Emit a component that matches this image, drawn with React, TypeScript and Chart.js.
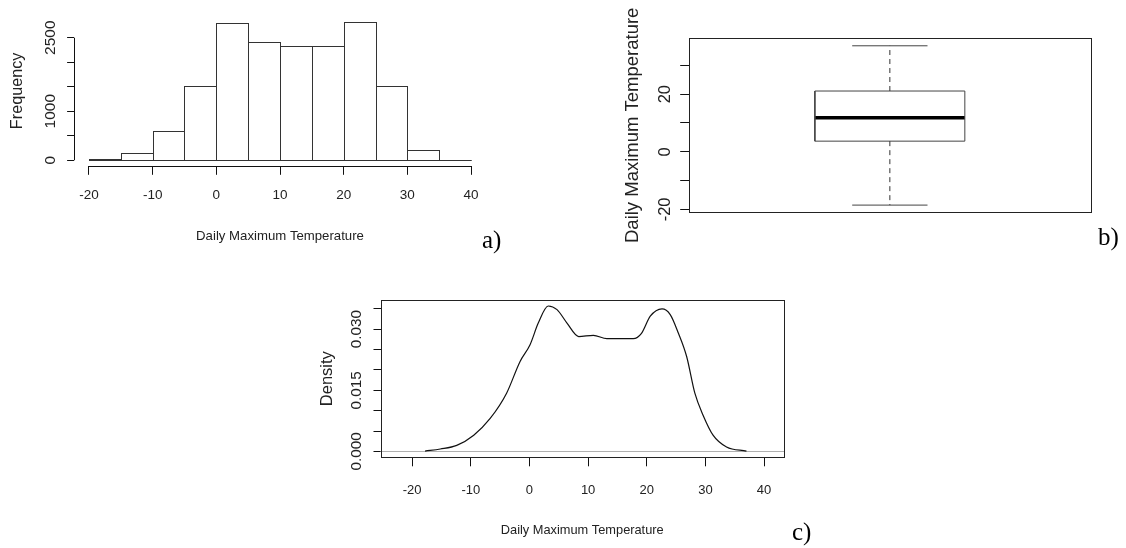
import React, { useEffect, useRef } from 'react';
import { Chart, registerables } from 'chart.js';

Chart.register(...registerables);

const SANS = '"Liberation Sans", Arial, Helvetica, sans-serif';
const SERIF = '"Liberation Serif", "Times New Roman", serif';
const TEXT = '#222';
const AXIS = '#111';

// ---------- Panel a: histogram ----------
const BIN_STARTS = [-20, -15, -10, -5, 0, 5, 10, 15, 20, 25, 30, 35];
const BIN_WIDTH = 5;
const BIN_COUNTS = [20, 150, 600, 1520, 2810, 2420, 2340, 2340, 2830, 1510, 205, 3];
const HIST_X_TICKS = [-20, -10, 0, 10, 20, 30, 40];
const FREQ_TICKS = [0, 500, 1000, 1500, 2000, 2500];
const FREQ_LABELED = [0, 1000, 2500];

// ---------- Panel b: box plot ----------
const BOX_STATS = [-18.5, 3.7, 11.8, 21.1, 36.8]; // min, Q1, median, Q3, max
const BOX_Y_TICKS = [-20, -10, 0, 10, 20, 30];
const BOX_Y_LABELED = [-20, 0, 20];

// ---------- Panel c: density ----------
const DENS_X = [-17.8, -15.2, -12.4, -9.5, -6.7, -3.9, -1.6, 0.1, 1.5, 3.2, 4.7, 6.4, 8.4, 10.9, 13.2, 17.7, 19.1, 20.6, 22.6, 24.0, 25.4, 26.8, 28.2, 29.6, 31.3, 33.6, 37.0];
const DENS_Y = [0.0001, 0.0006, 0.0015, 0.004, 0.0081, 0.0143, 0.0221, 0.0262, 0.0315, 0.0357, 0.0348, 0.0315, 0.0282, 0.0285, 0.0277, 0.0277, 0.029, 0.0332, 0.035, 0.0336, 0.029, 0.0233, 0.0143, 0.0089, 0.004, 0.0011, 0.0001];
const DENS_X_TICKS = [-20, -10, 0, 10, 20, 30, 40];
const DENS_Y_TICKS = [0, 0.005, 0.01, 0.015, 0.02, 0.025, 0.03, 0.035];
const DENS_Y_LABELED = [0, 0.015, 0.03];

const setTicks = (vals: number[]) => (s: any) => {
  s.ticks = vals.map((v) => ({ value: v }));
};

const crisp = (v: number) => Math.round(v) + 0.5;

// R-style axis lines spanning first..last tick (panel a)
const rAxisLines = {
  id: 'rAxisLines',
  afterDraw(chart: any) {
    const { ctx, chartArea, scales } = chart;
    const x = scales.x;
    const y = scales.y;
    ctx.save();
    ctx.strokeStyle = AXIS;
    ctx.lineWidth = 1;
    ctx.beginPath();
    const yb = crisp(chartArea.bottom);
    ctx.moveTo(x.getPixelForValue(HIST_X_TICKS[0]), yb);
    ctx.lineTo(x.getPixelForValue(HIST_X_TICKS[HIST_X_TICKS.length - 1]), yb);
    const xl = crisp(chartArea.left);
    ctx.moveTo(xl, y.getPixelForValue(FREQ_TICKS[0]));
    ctx.lineTo(xl, y.getPixelForValue(FREQ_TICKS[FREQ_TICKS.length - 1]));
    ctx.stroke();
    ctx.restore();
  },
};

// R-style rectangle outlines for the histogram bars (uses the bar elements' geometry)
const histOutline = {
  id: 'histOutline',
  afterDatasetsDraw(chart: any) {
    const { ctx } = chart;
    const meta = chart.getDatasetMeta(0);
    ctx.save();
    ctx.strokeStyle = '#333';
    ctx.lineWidth = 1;
    meta.data.forEach((el: any) => {
      const p = el.getProps(['x', 'y', 'base', 'width'], true);
      const l = crisp(p.x - p.width / 2);
      const r = crisp(p.x + p.width / 2);
      const t = crisp(Math.min(p.y, p.base));
      const b = crisp(Math.max(p.y, p.base));
      ctx.strokeRect(l, t, r - l, Math.max(b - t, 0));
    });
    ctx.restore();
  },
};

const frameBox = {
  id: 'frameBox',
  afterDraw(chart: any) {
    const { ctx, chartArea } = chart;
    ctx.save();
    ctx.strokeStyle = '#222';
    ctx.lineWidth = 1;
    const l = crisp(chartArea.left);
    const t = crisp(chartArea.top);
    const r = crisp(chartArea.right);
    const b = crisp(chartArea.bottom);
    ctx.strokeRect(l, t, r - l, b - t);
    ctx.restore();
  },
};

const zeroLine = {
  id: 'zeroLine',
  beforeDatasetsDraw(chart: any) {
    const { ctx, chartArea, scales } = chart;
    const yz = crisp(scales.y.getPixelForValue(0));
    ctx.save();
    ctx.strokeStyle = '#b0b0b0';
    ctx.lineWidth = 1;
    ctx.beginPath();
    ctx.moveTo(chartArea.left, yz);
    ctx.lineTo(chartArea.right, yz);
    ctx.stroke();
    ctx.restore();
  },
};

const baseOpts = {
  responsive: false,
  animation: false as const,
  devicePixelRatio: 1,
  events: [] as any[],
  plugins: { legend: { display: false }, tooltip: { enabled: false } },
};

function tickGrid(len: number) {
  return {
    display: true,
    drawOnChartArea: false,
    drawTicks: true,
    tickLength: len,
    tickColor: AXIS,
    tickWidth: 1,
    offset: false,
  };
}

function makeHist(): any {
  return {
    type: 'bar',
    data: {
      datasets: [
        {
          data: BIN_STARTS.map((s, i) => ({ x: s + BIN_WIDTH / 2, y: BIN_COUNTS[i] })),
          backgroundColor: '#ffffff',
          borderWidth: 0,
          barPercentage: 1,
          categoryPercentage: 1,
          inflateAmount: 0,
        },
      ],
    },
    options: {
      ...baseOpts,
      layout: { autoPadding: false, padding: { left: 0, top: 16, right: 13.7, bottom: 0 } },
      scales: {
        x: {
          type: 'linear',
          min: -22.4,
          max: 42.4,
          offset: false,
          afterBuildTicks: setTicks(HIST_X_TICKS),
          afterFit: (s: any) => { s.height = 94.2; },
          grid: tickGrid(9),
          border: { display: false },
          ticks: { color: TEXT, font: { family: SANS, size: 13.5 }, padding: 12, autoSkip: false, minRotation: 0, maxRotation: 0, callback: (v: number) => String(v) },
          title: { display: true, text: 'Daily Maximum Temperature', color: TEXT, font: { family: SANS, size: 13.2 }, padding: { top: 0, bottom: 16 } },
        },
        y: {
          type: 'linear',
          min: -113,
          max: 2943,
          afterBuildTicks: setTicks(FREQ_TICKS),
          afterFit: (s: any) => { s.width = 73.7; },
          grid: tickGrid(6.6),
          border: { display: false },
          ticks: { color: TEXT, font: { family: SANS, size: 15.5 }, padding: -0.9, autoSkip: false, minRotation: 90, maxRotation: 90, crossAlign: 'center', callback: (v: number) => (FREQ_LABELED.includes(v) ? String(v) : '') },
          title: { display: true, text: 'Frequency', color: TEXT, font: { family: SANS, size: 16.2 }, padding: { top: 7.8, bottom: 0 } },
        },
      },
    },
    plugins: [histOutline, rAxisLines],
  };
}

const BOX_HALF = 0.1864;
const CAP_HALF = 0.0936;

function makeBox(): any {
  const [mn, q1, med, q3, mx] = BOX_STATS;
  const seg = (pts: number[][], color: string, width: number, dash: number[] = []) => ({
    data: pts.map(([x, y]) => ({ x, y })),
    showLine: true,
    pointRadius: 0,
    borderColor: color,
    borderWidth: width,
    borderDash: dash,
    tension: 0,
    fill: false,
  });
  return {
    type: 'scatter',
    data: {
      datasets: [
        seg([[1, q3], [1, mx]], '#333', 1, [5, 4]),
        seg([[1, q1], [1, mn]], '#333', 1, [5, 4]),
        seg([[1 - CAP_HALF, mx], [1 + CAP_HALF, mx]], '#444', 1),
        seg([[1 - CAP_HALF, mn], [1 + CAP_HALF, mn]], '#444', 1),
        seg([[1 - BOX_HALF, q1], [1 + BOX_HALF, q1], [1 + BOX_HALF, q3], [1 - BOX_HALF, q3], [1 - BOX_HALF, q1]], '#444', 1),
        seg([[1 - BOX_HALF, med], [1 + BOX_HALF, med]], '#000', 3.5),
      ],
    },
    options: {
      ...baseOpts,
      layout: { autoPadding: false, padding: { left: 0, top: 38.3, right: 35, bottom: 47.7 } },
      scales: {
        x: { type: 'linear', min: 0.5, max: 1.5, display: false },
        y: {
          type: 'linear',
          min: -21.0,
          max: 39.4,
          afterBuildTicks: setTicks(BOX_Y_TICKS),
          afterFit: (s: any) => { s.width = 88.7; },
          grid: tickGrid(8.5),
          border: { display: false },
          ticks: { color: TEXT, font: { family: SANS, size: 16.5 }, padding: 3, autoSkip: false, minRotation: 90, maxRotation: 90, crossAlign: 'center', callback: (v: number) => (BOX_Y_LABELED.includes(v) ? String(v) : '') },
          title: { display: true, text: 'Daily Maximum Temperature', color: TEXT, font: { family: SANS, size: 18.5 }, padding: { top: 21.9, bottom: 0 } },
        },
      },
    },
    plugins: [frameBox],
  };
}

function makeDensity(): any {
  return {
    type: 'scatter',
    data: {
      datasets: [
        {
          data: DENS_X.map((x, i) => ({ x, y: DENS_Y[i] })),
          showLine: true,
          pointRadius: 0,
          borderColor: '#111',
          borderWidth: 1.2,
          cubicInterpolationMode: 'monotone',
          fill: false,
        },
      ],
    },
    options: {
      ...baseOpts,
      layout: { autoPadding: false, padding: { left: 0, top: 20, right: 42, bottom: 0 } },
      scales: {
        x: {
          type: 'linear',
          min: -25.4,
          max: 43.4,
          afterBuildTicks: setTicks(DENS_X_TICKS),
          afterFit: (s: any) => { s.height = 90.7; },
          grid: tickGrid(9),
          border: { display: false },
          ticks: { color: TEXT, font: { family: SANS, size: 13 }, padding: 16, autoSkip: false, minRotation: 0, maxRotation: 0, callback: (v: number) => String(v) },
          title: { display: true, text: 'Daily Maximum Temperature', color: TEXT, font: { family: SANS, size: 12.8 }, padding: { top: 0, bottom: 10.3 } },
        },
        y: {
          type: 'linear',
          min: -0.00143,
          max: 0.03717,
          afterBuildTicks: setTicks(DENS_Y_TICKS),
          afterFit: (s: any) => { s.width = 80.5; },
          grid: tickGrid(7),
          border: { display: false },
          ticks: { color: TEXT, font: { family: SANS, size: 15.3 }, padding: -2.3, autoSkip: false, minRotation: 90, maxRotation: 90, crossAlign: 'center', callback: (v: number) => (DENS_Y_LABELED.some((l) => Math.abs(l - v) < 1e-9) ? v.toFixed(3) : '') },
          title: { display: true, text: 'Density', color: TEXT, font: { family: SANS, size: 16.5 }, padding: { top: 17.6, bottom: 0 } },
        },
      },
    },
    plugins: [zeroLine, frameBox],
  };
}

function ChartCanvas(props: { left: number; top: number; width: number; height: number; make: () => any }) {
  const { left, top, width, height, make } = props;
  const ref = useRef<HTMLCanvasElement | null>(null);
  useEffect(() => {
    if (!ref.current) return;
    const chart = new Chart(ref.current, make());
    return () => chart.destroy();
  }, []);
  return (
    <canvas
      ref={ref}
      width={width}
      height={height}
      style={{ position: 'absolute', left, top, width, height, display: 'block' }}
    />
  );
}

function PanelTag(props: { text: string; left: number; top: number }) {
  return (
    <div
      style={{
        position: 'absolute',
        left: props.left,
        top: props.top,
        fontFamily: SERIF,
        fontSize: 25,
        lineHeight: 1,
        color: '#000',
        whiteSpace: 'nowrap',
      }}
    >
      {props.text}
    </div>
  );
}

export default function App() {
  return (
    <div style={{ position: 'absolute', left: 0, top: 0, width: 1126, height: 548, background: '#fff', overflow: 'hidden' }}>
      <ChartCanvas left={0} top={0} width={500} height={260} make={makeHist} />
      <ChartCanvas left={600} top={0} width={526} height={260} make={makeBox} />
      <ChartCanvas left={300} top={280} width={526} height={268} make={makeDensity} />
      <PanelTag text="a)" left={482} top={227} />
      <PanelTag text="b)" left={1098} top={224} />
      <PanelTag text="c)" left={792} top={519} />
    </div>
  );
}
